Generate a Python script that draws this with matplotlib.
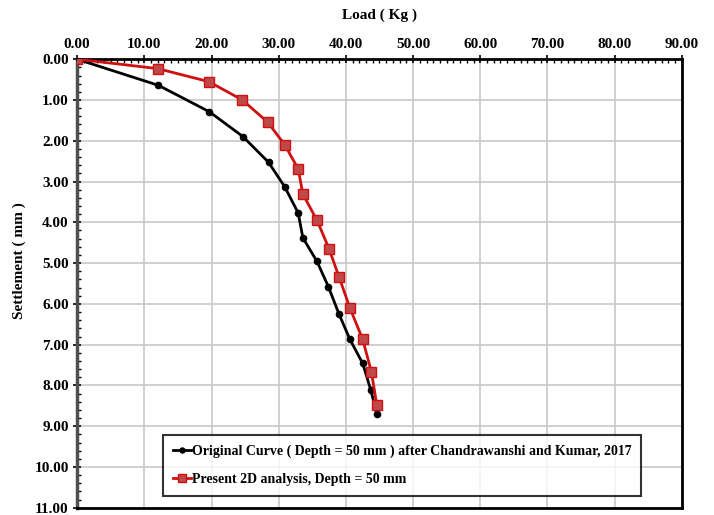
import numpy as np
import matplotlib.pyplot as plt
from matplotlib.ticker import MultipleLocator, FormatStrFormatter

# original curve (Chandrawanshi and Kumar, 2017)
orig_load = [0.0, 12.1, 19.7, 24.7, 28.5, 30.9, 32.9, 33.6, 35.7, 37.4, 39.0, 40.6, 42.5, 43.7, 44.6]
orig_settle = [0.0, 0.64, 1.29, 1.90, 2.53, 3.13, 3.77, 4.38, 4.96, 5.58, 6.26, 6.87, 7.46, 8.11, 8.70]

# present 2D analysis
pres_load = [0.0, 12.0, 19.6, 24.6, 28.4, 30.9, 32.9, 33.6, 35.7, 37.5, 39.0, 40.6, 42.5, 43.8, 44.6]
pres_settle = [0.0, 0.23, 0.55, 1.00, 1.55, 2.10, 2.69, 3.31, 3.95, 4.65, 5.35, 6.10, 6.87, 7.67, 8.48]

plt.rcParams['font.family'] = ['Liberation Serif', 'DejaVu Serif']
plt.rcParams['font.weight'] = 'bold'

fig = plt.figure(figsize=(7.14, 5.15), dpi=100)
ax = fig.add_axes([0.108, 0.014, 0.847, 0.871])

ax.plot(orig_load, orig_settle, color='black', lw=2, marker='o', ms=4.5,
        label='Original Curve ( Depth = 50 mm ) after Chandrawanshi and Kumar, 2017', zorder=3)
ax.plot(pres_load, pres_settle, color='#d01010', lw=2, marker='s', ms=6.5,
        mfc='#c04848', mec='#d01010', mew=1,
        label='Present 2D analysis, Depth = 50 mm', zorder=4)

ax.set_xlim(0, 90)
ax.set_ylim(11, 0)
ax.xaxis.tick_top()
ax.xaxis.set_label_position('top')
ax.xaxis.set_major_locator(MultipleLocator(10))
ax.xaxis.set_minor_locator(MultipleLocator(1))
ax.yaxis.set_major_locator(MultipleLocator(1))
ax.yaxis.set_minor_locator(MultipleLocator(0.2))
ax.xaxis.set_major_formatter(FormatStrFormatter('%.2f'))
ax.yaxis.set_major_formatter(FormatStrFormatter('%.2f'))
ax.tick_params(axis='x', which='major', direction='inout', length=6, width=1.2, labelsize=11, pad=3)
ax.tick_params(axis='x', which='minor', direction='in', length=3, width=1)
ax.tick_params(axis='y', which='major', direction='inout', length=6, width=1.2, labelsize=11, pad=3)
ax.tick_params(axis='y', which='minor', direction='in', length=3, width=1)
for lab in ax.get_xticklabels() + ax.get_yticklabels():
    lab.set_fontweight('bold')

ax.grid(True, which='major', color='#c8c8c8', lw=1.2)
ax.set_axisbelow(True)
for s in ['top', 'right', 'bottom']:
    ax.spines[s].set_linewidth(2)
    ax.spines[s].set_color('black')
ax.spines['left'].set_linewidth(2.5)
ax.spines['left'].set_color('#505050')

ax.set_xlabel('Load ( Kg )', fontsize=11, fontweight='bold')
ax.xaxis.set_label_coords(0.5, 1.09)
ax.set_ylabel('Settlement ( mm )', fontsize=11, fontweight='bold')
ax.yaxis.set_label_coords(-0.085, 0.55)

leg = ax.legend(loc='upper left', bbox_to_anchor=(0.228, 0.155), bbox_transform=fig.transFigure,
                fontsize=10, frameon=True, fancybox=False, edgecolor='black',
                handlelength=1.3, handletextpad=0.1, markerscale=0.8, borderpad=0.7,
                borderaxespad=0, labelspacing=1.05)
leg.get_frame().set_linewidth(1.5)
for t in leg.get_texts():
    t.set_fontweight('bold')

fig.savefig('out.png', dpi=100)
